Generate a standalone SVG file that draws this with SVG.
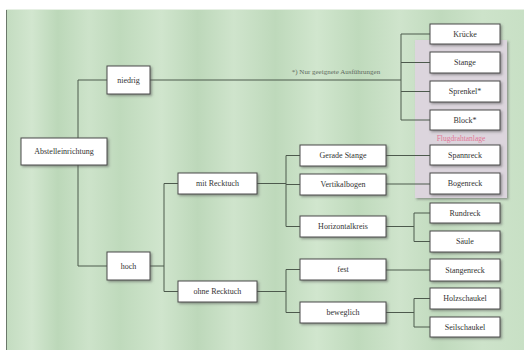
<svg xmlns="http://www.w3.org/2000/svg" width="524" height="350" viewBox="0 0 524 350">
<defs>
<linearGradient id="bg" x1="0" y1="0" x2="1" y2="0">
<stop offset="0" stop-color="#c3dcc0"/>
<stop offset="0.05" stop-color="#d2e6cf"/>
<stop offset="0.1" stop-color="#bcd8b9"/>
<stop offset="0.16" stop-color="#cde3ca"/>
<stop offset="0.22" stop-color="#bfdabc"/>
<stop offset="0.3" stop-color="#d0e5cd"/>
<stop offset="0.37" stop-color="#bdd8ba"/>
<stop offset="0.44" stop-color="#cfe4cc"/>
<stop offset="0.52" stop-color="#bed9bb"/>
<stop offset="0.6" stop-color="#d1e6ce"/>
<stop offset="0.68" stop-color="#bfdabc"/>
<stop offset="0.76" stop-color="#cfe4cc"/>
<stop offset="0.84" stop-color="#c0dabd"/>
<stop offset="0.92" stop-color="#cde3ca"/>
<stop offset="1" stop-color="#c8e0c5"/>
</linearGradient>
<filter id="sh" x="-10%" y="-10%" width="130%" height="140%">
<feDropShadow dx="1.5" dy="1.5" stdDeviation="0.8" flood-color="#555" flood-opacity="0.55"/>
</filter>
<style>
.box{fill:#ffffff;stroke:#4a4a4a;stroke-width:1;filter:url(#sh)}
.t{font-family:"Liberation Serif","Times New Roman",serif;font-size:8px;fill:#333;text-anchor:middle;dominant-baseline:central}
.ln{fill:none;stroke:#4d5a4d;stroke-width:1}
</style>
</defs>
<rect x="6" y="9" width="518" height="341" fill="url(#bg)"/>
<line x1="6.5" y1="9" x2="6.5" y2="350" stroke="#6a786a" stroke-width="1"/>
<line x1="6" y1="9.5" x2="524" y2="9.5" stroke="#e6f0e4" stroke-width="1"/>

<g id="flugdraht-panel">
<rect x="415" y="40" width="92" height="158" fill="#dcd5dd" filter="url(#sh)"/>
<text x="461" y="138" class="t" style="fill:#e07696;font-size:7.5px">Flugdrahtanlage</text>
</g>

<g id="connectors">
<path class="ln" d="M78 80 V266 M78 80 H107 M78 266 H107"/>
<path class="ln" d="M150 80 H401 M401 34 V120 M401 34 H430 M401 62.5 H430 M401 91.5 H430 M401 120 H430"/>
<path class="ln" d="M150 266 H164 M164 183.5 V291.5 M164 183.5 H178 M164 291.5 H178"/>
<path class="ln" d="M257 183.5 H286 M286 155.5 V226.5 M286 155.5 H300 M286 184.5 H300 M286 226.5 H300"/>
<path class="ln" d="M386 155.5 H430 M386 184 H430"/>
<path class="ln" d="M386 226.5 H414 M414 213 V241.5 M414 213 H430 M414 241.5 H430"/>
<path class="ln" d="M257 291.5 H286 M286 269.5 V312.5 M286 269.5 H300 M286 312.5 H300"/>
<path class="ln" d="M386 270 H430"/>
<path class="ln" d="M386 312.5 H414 M414 298.5 V327 M414 298.5 H430 M414 327 H430"/>
</g>

<text x="336" y="72" class="t" style="font-size:7px;fill:#5e6a5e">*) Nur geeignete Ausführungen</text>

<g id="abstelleinrichtung"><rect class="box" x="21" y="138" width="86" height="27"/><text class="t" x="64" y="151.5">Abstelleinrichtung</text></g>
<g id="niedrig"><rect class="box" x="107" y="66" width="43" height="28"/><text class="t" x="128.5" y="80">niedrig</text></g>
<g id="hoch"><rect class="box" x="107" y="252" width="43" height="28"/><text class="t" x="128.5" y="266">hoch</text></g>
<g id="mit-recktuch"><rect class="box" x="178" y="173" width="79" height="21"/><text class="t" x="217.5" y="183.5">mit Recktuch</text></g>
<g id="ohne-recktuch"><rect class="box" x="178" y="281" width="79" height="21"/><text class="t" x="217.5" y="291.5">ohne Recktuch</text></g>
<g id="gerade-stange"><rect class="box" x="300" y="145" width="86" height="21"/><text class="t" x="343" y="155.5">Gerade Stange</text></g>
<g id="vertikalbogen"><rect class="box" x="300" y="174" width="86" height="21"/><text class="t" x="343" y="184.5">Vertikalbogen</text></g>
<g id="horizontalkreis"><rect class="box" x="300" y="216" width="86" height="21"/><text class="t" x="343" y="226.5">Horizontalkreis</text></g>
<g id="fest"><rect class="box" x="300" y="259" width="86" height="21"/><text class="t" x="343" y="269.5">fest</text></g>
<g id="beweglich"><rect class="box" x="300" y="302" width="86" height="21"/><text class="t" x="343" y="312.5">beweglich</text></g>
<g id="kruecke"><rect class="box" x="430" y="24" width="70" height="20"/><text class="t" x="465" y="34">Krücke</text></g>
<g id="stange"><rect class="box" x="430" y="52" width="70" height="21"/><text class="t" x="465" y="62.5">Stange</text></g>
<g id="sprenkel"><rect class="box" x="430" y="81" width="70" height="21"/><text class="t" x="465" y="91.5">Sprenkel*</text></g>
<g id="block"><rect class="box" x="430" y="110" width="70" height="20"/><text class="t" x="465" y="120">Block*</text></g>
<g id="spannreck"><rect class="box" x="430" y="145" width="70" height="20"/><text class="t" x="465" y="155">Spannreck</text></g>
<g id="bogenreck"><rect class="box" x="430" y="173" width="70" height="21"/><text class="t" x="465" y="183.5">Bogenreck</text></g>
<g id="rundreck"><rect class="box" x="430" y="203" width="70" height="20"/><text class="t" x="465" y="213">Rundreck</text></g>
<g id="saeule"><rect class="box" x="430" y="231" width="70" height="21"/><text class="t" x="465" y="241.5">Säule</text></g>
<g id="stangenreck"><rect class="box" x="430" y="259" width="70" height="22"/><text class="t" x="465" y="270">Stangenreck</text></g>
<g id="holzschaukel"><rect class="box" x="430" y="288" width="70" height="21"/><text class="t" x="465" y="298.5">Holzschaukel</text></g>
<g id="seilschaukel"><rect class="box" x="430" y="317" width="70" height="20"/><text class="t" x="465" y="327">Seilschaukel</text></g>
</svg>
